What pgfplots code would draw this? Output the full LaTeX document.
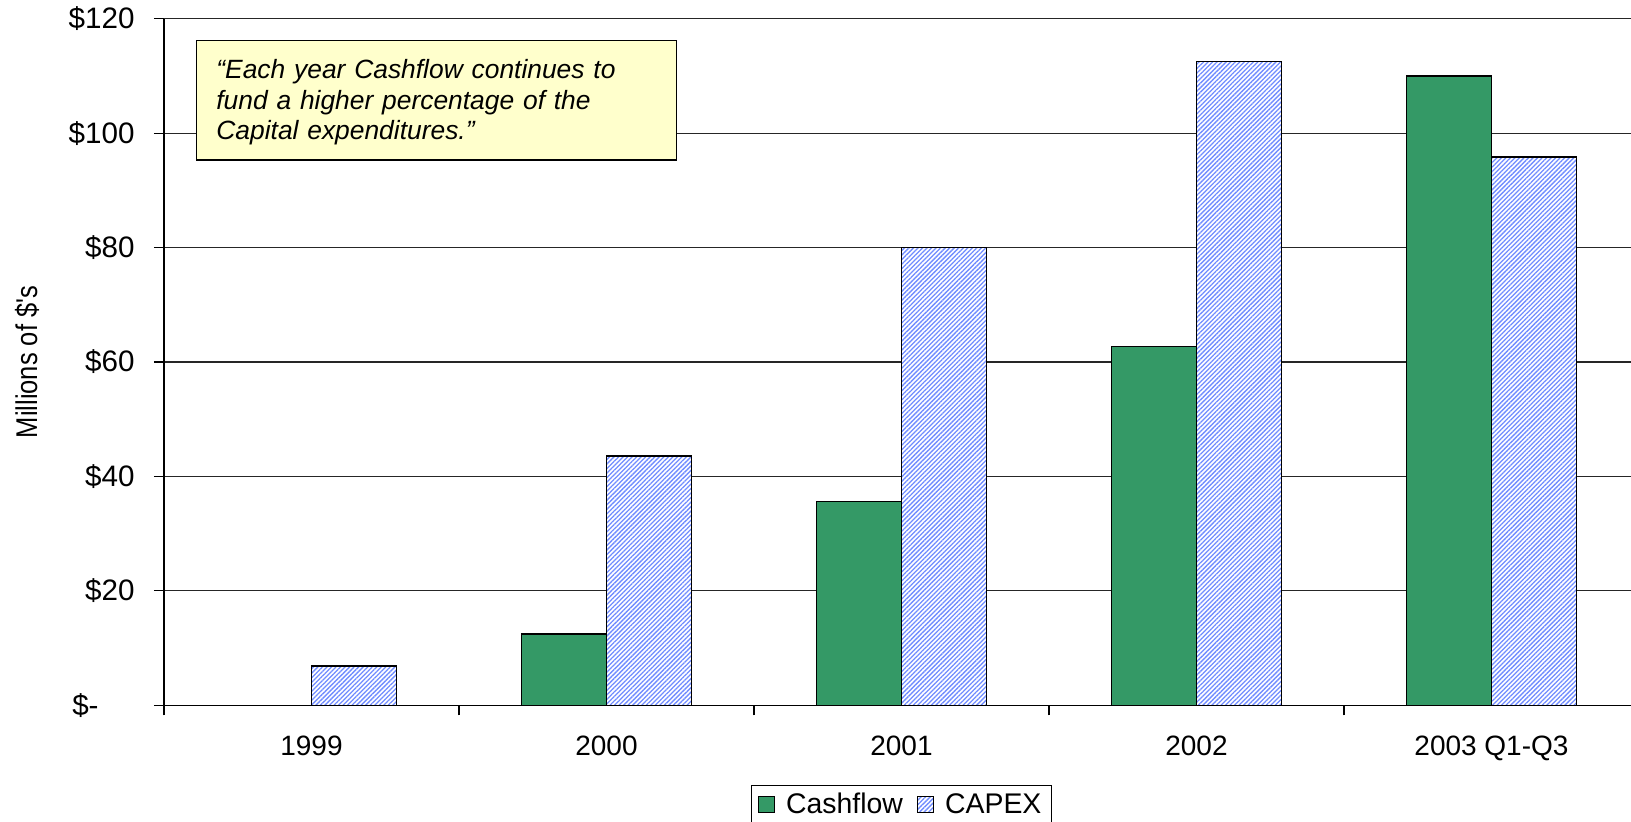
\documentclass[border=0pt]{standalone}
\usepackage{fontspec}
\setmainfont{Liberation Sans}
\newfontfamily\condfont{Liberation Sans}[FakeStretch=0.85]
\usepackage{pgfplots}
\pgfplotsset{compat=1.18}
\usetikzlibrary{patterns.meta}
\definecolor{cashgreen}{RGB}{52,153,102}
\definecolor{capexblue}{RGB}{112,140,255}
\definecolor{noteyellow}{RGB}{255,255,204}
\begin{document}
\begin{tikzpicture}
\useasboundingbox (-82pt,-58.35pt) rectangle (733.5pt,352.65pt);
\begin{axis}[
  scale only axis, width=733.5pt, height=343.3pt,
  xmin=-0.5, xmax=4.473, ymin=0, ymax=120,
  ybar=0pt, bar width=0.288,
  axis x line*=bottom, axis y line*=left,
  axis line style={-, line width=0.75pt, black},
  ytick={0,20,...,120},
  yticklabels={\$-\makebox[18pt]{},\$20,\$40,\$60,\$80,\$100,\$120},
  xtick={0,...,4},
  xticklabels={1999,2000,2001,2002,2003 Q1-Q3},
  xtick style={draw=none},
  extra x ticks={-0.5,0.5,1.5,2.5,3.5},
  extra x tick labels={},
  extra x tick style={xtick style={draw=black, line width=0.6pt}},
  tick align=outside, major tick length=5pt,
  ytick style={draw=black, line width=0.6pt},
  ymajorgrids, grid style={black!85, line width=0.6pt},
  xticklabel style={font=\fontsize{14}{16}\selectfont, inner sep=0pt, anchor=base, yshift=-20pt},
  yticklabel style={font=\fontsize{14.8}{17}\selectfont, inner sep=0pt, xshift=-9.5pt},
  legend style={at={(0.5027,-0.1165)}, anchor=north, legend columns=2, draw=black, line width=0.6pt,
    font=\fontsize{14.2}{16}\selectfont, inner xsep=3.2pt, inner ysep=1.5pt,
    /tikz/every even column/.append style={column sep=4.8pt}},
  legend image code/.code={\draw[#1, line width=0.6pt] (0pt,-4pt) rectangle (8pt,4pt);
    \pgfpathmoveto{\pgfqpoint{12pt}{0pt}}\pgfusepath{discard}},
]
\addplot[draw=black, line width=0.75pt, fill=cashgreen] coordinates {(1,12.5) (2,35.6) (3,62.7) (4,110)};
\addlegendentry{Cashflow}
\addplot[draw=black, line width=0.75pt, fill=white,
  postaction={pattern={Lines[angle=45,distance=1.6pt,line width=0.65pt]}, pattern color=capexblue}]
  coordinates {(0,6.9) (1,43.6) (2,80) (3,112.5) (4,95.8)};
\addlegendentry{CAPEX}
\node[draw=black, line width=0.75pt, fill=noteyellow, anchor=north west, inner sep=0pt,
  minimum width=240pt, minimum height=59.75pt] (note) at (rel axis cs:0.0218,0.969) {};
\node[anchor=west, inner xsep=10pt, inner ysep=0pt, text width=220pt, align=left,
  font=\fontsize{13.2}{15.2}\selectfont\itshape]
  at ([yshift=-1pt]note.west) {“Each year Cashflow continues to\\ fund a higher percentage of the\\ Capital expenditures.”};
\end{axis}
\node[rotate=90, font=\fontsize{15}{17}\selectfont\condfont] at (-68.5pt,171.65pt) {Millions of \$'s};
\end{tikzpicture}
\end{document}
